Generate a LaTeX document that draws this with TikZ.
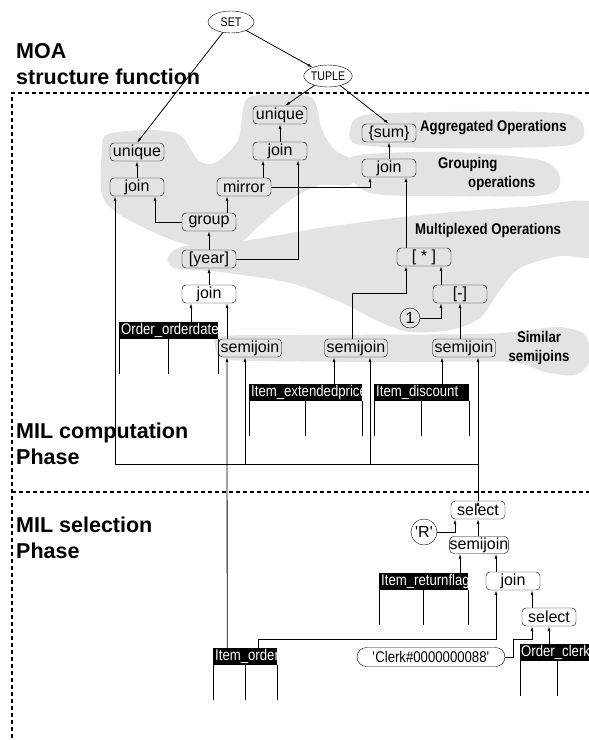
\documentclass[tikz,border=0pt]{standalone}
\usepackage{fontspec}
\setmainfont{Liberation Sans}
\newfontfamily\narrowfont[FakeStretch=0.85]{Liberation Sans}
\usetikzlibrary{calc,arrows.meta,shapes.geometric,shapes.misc}

\newcommand{\relbox}[2]{\makebox[#1][l]{\hspace{2pt}#2}}

\tikzset{
  op/.style={draw, rounded corners=4pt, minimum width=54pt, minimum height=18pt,
    inner sep=0pt, font=\fontsize{16}{16}\selectfont},
  wideop/.style={op, minimum width=63pt},
  rel/.style={fill=black, text=white, anchor=north west, inner sep=0pt,
    minimum height=17pt, font=\narrowfont\fontsize{15.5}{15.5}\selectfont},
  cst/.style={draw, circle, inner sep=0pt, font=\fontsize{16}{16}\selectfont},
  ctor/.style={draw, ellipse, inner sep=0pt, minimum width=46pt, minimum height=22pt,
    font=\narrowfont\fontsize{12.5}{12.5}\selectfont},
  tag/.style={font=\narrowfont\bfseries\fontsize{15.5}{19}\selectfont, align=left, inner sep=0pt},
  phase/.style={font=\bfseries\fontsize{21.5}{26}\selectfont, align=left,
    anchor=north west, inner sep=0pt},
  flow/.style={draw, line width=0.8pt, -{Latex[length=5pt,width=3pt]}},
  col/.style={draw, line width=0.8pt},
  region/.style={fill=black!11, draw=none},
  frame/.style={line width=1.2pt, dash pattern=on 4pt off 3pt},
}

\begin{document}
\begin{tikzpicture}[x=1pt,y=-1pt]
  \useasboundingbox (0,0) rectangle (589,740);

  % grey areas
  \path[region] plot[smooth cycle] coordinates {(102,150) (108,134) (150,130) (180,135)
    (198,160) (215,163) (238,140) (246,100) (275,94) (312,98) (322,130) (335,150) (360,165)
    (350,185) (320,185) (290,200) (260,225) (235,245) (190,245) (160,235) (120,215) (102,195)};
  \path[region] plot[smooth cycle] coordinates {(345,168) (360,155) (450,152) (540,160)
    (560,178) (545,195) (450,196) (370,193)};
  \path[region] plot[smooth cycle] coordinates {(350,130) (365,115) (450,112) (560,113)
    (583,125) (570,145) (450,148) (360,145)};
  \path[region] plot[smooth cycle] coordinates {(168,257) (185,246) (250,240) (320,228)
    (420,215) (520,207) (595,203) (595,255) (560,256) (520,268) (500,290) (480,318)
    (450,330) (410,332) (380,322) (340,302) (290,283) (220,272) (175,268)};
  \path[region] plot[smooth cycle] coordinates {(215,345) (222,336) (300,335) (480,334)
    (530,330) (560,327) (585,335) (590,360) (575,375) (545,372) (510,362) (400,362)
    (260,361) (222,358)};

  \draw[frame] (589,93) -- (12,93) -- (12,740);
  \draw[frame] (12,492) -- (589,492);

  \node[phase] (moa)  at (16,43)  {MOA\\structure function};
  \node[phase] (comp) at (16,423) {MIL computation\\Phase};
  \node[phase] (sel)  at (16,517) {MIL selection\\Phase};

  \node[tag, anchor=west]       (agg) at (420,128) {Aggregated Operations};
  \node[tag, anchor=north west] (grp) at (438,157) {Grouping\\\hspace*{30pt}operations};
  \node[tag, anchor=west]       (mux) at (415,230) {Multiplexed Operations};
  \node[tag, align=center]      (sim) at (539,348) {Similar\\semijoins};

  \node[ctor] (set)   at (231,22) {SET};
  \node[ctor] (tuple) at (328,76) {TUPLE};

  \node[op] (unique1) at (137,152) {unique};
  \node[op] (join1)   at (137,187) {join};
  \node[op] (unique2) at (280,115) {unique};
  \node[op] (join2)   at (280,151) {join};
  \node[op] (mirror)  at (244,187) {mirror};
  \node[op] (group)   at (209,222) {group};
  \node[op] (year)    at (209,259) {[year]};
  \node[op] (join3)   at (209,294) {join};
  \node[op] (sum)     at (389,133) {\{sum\}};
  \node[op] (join4)   at (389,168) {join};
  \node[op] (star)    at (424,257) {[ * ]};
  \node[op] (minus)   at (460,294) {[-]};
  \node[cst, minimum size=20pt] (one) at (410,318) {1};
  \node[wideop] (semijoin1) at (250,348) {semijoin};
  \node[wideop] (semijoin2) at (356,348) {semijoin};
  \node[wideop] (semijoin3) at (464,348) {semijoin};

  \node[op] (select1) at (478,510) {select};
  \node[cst, minimum size=26pt] (rq) at (424,532) {\textquotesingle R\textquotesingle};
  \node[op, minimum width=58pt, minimum height=17pt] (semijoin4) at (479,545) {semijoin};
  \node[op] (join5)   at (513,581) {join};
  \node[op] (select2) at (549,617) {select};
  \node[draw, rounded rectangle, minimum width=148pt, minimum height=19pt, inner sep=0pt,
    font=\narrowfont\fontsize{15.5}{15.5}\selectfont] (clerk) at (431,657)
    {\textquotesingle Clerk\#0000000088\textquotesingle};

  \node[rel] (odate)  at (119,322) {\relbox{99pt}{Order\_orderdate}};
  \node[rel] (xprice) at (249,384) {\relbox{113pt}{Item\_extendedprice}};
  \node[rel] (disc)   at (374,384) {\relbox{95pt}{Item\_discount}};
  \node[rel] (rflag)  at (379,573) {\relbox{89pt}{Item\_returnflag}};
  \node[rel] (iorder) at (213,648) {\relbox{64pt}{Item\_order}};
  \node[rel] (oclerk) at (520,644) {\relbox{75pt}{\hspace{-1pt}Order\_clerk}};

  \foreach \t in {odate,xprice,disc,rflag,iorder,oclerk}
    \path[col] (\t.south west) -- ++(0,35) (\t.south) -- ++(0,35) (\t.south east) -- ++(0,35);

  \coordinate (hub)  at (478,464);
  \coordinate (j3in) at ([xshift=-18pt]join3.south);
  \coordinate (s2in) at ([xshift=-22pt]semijoin2.south);
  \coordinate (s3in) at ([xshift=-22pt]semijoin3.south);
  \coordinate (s4in) at ([xshift=-19pt]semijoin4.south);

  \path[flow] (set)   edge (unique1.north)
              (set)   edge (tuple)
              (tuple) edge ([xshift=5pt]unique2.north)
              (tuple) edge (sum.north)
              (join1) edge (unique1)
              (join2) edge (unique2)
              (join4) edge (sum)
              (year)  edge (group)
              (join3) edge (year)
              ([xshift=18pt]group.north)      edge ([xshift=-17pt]mirror.south)
              ([xshift=19pt]mirror.north)     edge ([xshift=-17pt]join2.south)
              ([xshift=-23pt]semijoin1.north) edge ([xshift=18pt]join3.south)
              ([xshift=-18pt]star.north)      edge ([xshift=17pt]join4.south)
              ([xshift=-19pt]minus.north)     edge ([xshift=17pt]star.south)
              ([xshift=-4pt]semijoin3.north)  edge (minus.south)
              (odate.north -| j3in)           edge (j3in)
              (xprice.north -| s2in)          edge (s2in)
              (disc.north -| s3in)            edge (s3in)
              (rflag.north -| s4in)           edge (s4in)
              ([xshift=-1pt]semijoin4.north)  edge (select1.south)
              ([xshift=-17pt]join5.north)     edge ([xshift=17pt]semijoin4.south)
              ([xshift=-17pt]select2.north)   edge ([xshift=19pt]join5.south)
              (oclerk.north -| select2.south) edge (select2.south)
              ([xshift=-18pt]iorder.north)    edge ([xshift=-23pt]semijoin1.south)
              (select1.north)                 edge ([xshift=14pt]semijoin3.south);

  \draw[flow] (group.west) -| ([xshift=18pt]join1.south);
  \draw[flow] (mirror.east) -| ([xshift=-19pt]join4.south);
  \draw[flow] (year.east) -| ([xshift=18pt]join2.south);
  \draw[flow] ([xshift=-4pt]semijoin2.north) -- ++(0,-45) -| ([xshift=-18pt]star.south);
  \draw[flow] (one.east) -| ([xshift=-19pt]minus.south);
  \draw[flow] (hub) -| ([xshift=14pt]semijoin2.south);
  \draw[flow] (hub) -| ([xshift=-5pt]semijoin1.south);
  \draw[flow] (hub) -| ([xshift=-22pt]join1.south);
  \draw[flow] (rq.east) -| ([xshift=-23pt]select1.south);
  \draw[flow] ([xshift=13pt]iorder.north) -- ++(0,-9) -| ([xshift=-17pt]join5.south);
  \draw[flow] (clerk.east) -- ++(8,0) -- ++(0,-18) -| ([xshift=-17pt]select2.south);
\end{tikzpicture}
\end{document}
